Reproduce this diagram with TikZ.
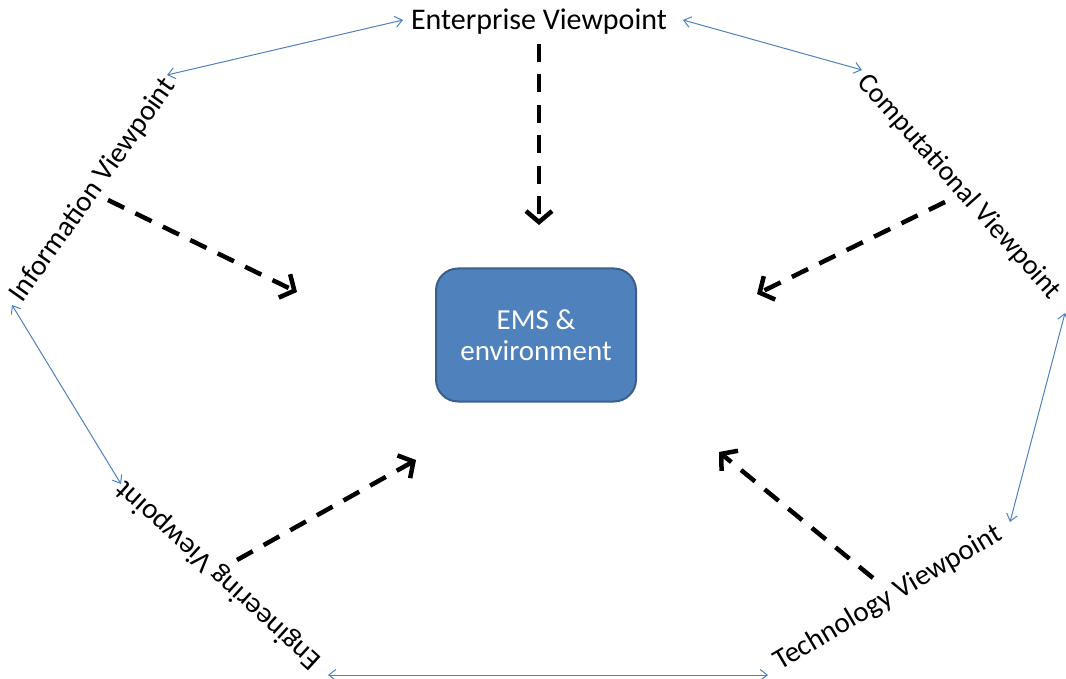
\documentclass[tikz,border=0pt]{standalone}
\usepackage{fontspec}
\setmainfont{Carlito}
\usetikzlibrary{arrows.meta}
\definecolor{vpblue}{HTML}{4F81BD}
\definecolor{vpedge}{HTML}{3A5F8B}
\begin{document}
\begin{tikzpicture}[x=1pt,y=1pt,
  lbl/.style={font=\fontsize{29}{34}\selectfont, inner sep=0pt},
  link/.style={draw=vpblue, line width=1pt,
    {Straight Barb[length=7pt,width=11pt]}-{Straight Barb[length=7pt,width=11pt]}},
  flow/.style={draw=black, line width=4.5pt, dash pattern=on 18pt off 12.5pt,
    -{Straight Barb[length=11pt,width=26pt]}},
  core/.style={draw=vpedge, line width=2pt, fill=vpblue, rounded corners=22pt,
    minimum width=200pt, minimum height=133pt, text=white, align=center,
    font=\fontsize{29}{31}\selectfont}]
\useasboundingbox (0,0) rectangle (1066,-679);

% central element
\node[core] (ems) at (536,-335) {EMS \&\\environment};

% the five viewpoints around it
\node[lbl, font=\fontsize{30}{34}\selectfont] (ent) at (539,-22) {Enterprise Viewpoint};
\node[lbl, rotate=54.7] (inf) at (93,-190) {Information Viewpoint};
\node[lbl, rotate=-48.3, font=\fontsize{28}{34}\selectfont] (comp) at (959,-187) {Computational Viewpoint};
\node[lbl, rotate=30.6] (tech) at (888,-598) {Technology Viewpoint};
\node[lbl, rotate=137.7] (eng) at (219,-575) {Engineering Viewpoint};

% ends of the links between neighbouring viewpoints
\coordinate (entL) at (403,-20);
\coordinate (entR) at (683,-20);
\coordinate (infT) at (167,-75);
\coordinate (infB) at (12,-305);
\coordinate (compT) at (862,-70);
\coordinate (compB) at (1065,-313);
\coordinate (techR) at (1010,-522);
\coordinate (techL) at (768,-675);
\coordinate (engR) at (328,-675);
\coordinate (engT) at (121,-484);

\draw[link] (infT) -- (entL);
\draw[link] (entR) -- (compT);
\draw[link] (compB) -- (techR);
\draw[link] (techL) -- (engR);
\draw[link] (engT) -- (infB);

% ends of the flows into the central element
\coordinate (entS) at (539,-44);
\coordinate (entE) at (539,-225);
\coordinate (infS) at (108,-200);
\coordinate (infE) at (297,-292);
\coordinate (compS) at (945,-202);
\coordinate (compE) at (757,-294);
\coordinate (engS) at (237,-560);
\coordinate (engE) at (416,-460);
\coordinate (techS) at (873,-578);
\coordinate (techE) at (719,-452);

\draw[flow] (entS) -- (entE);
\draw[flow] (infS) -- (infE);
\draw[flow] (compS) -- (compE);
\draw[flow] (engS) -- (engE);
\draw[flow] (techS) -- (techE);
\end{tikzpicture}
\end{document}
